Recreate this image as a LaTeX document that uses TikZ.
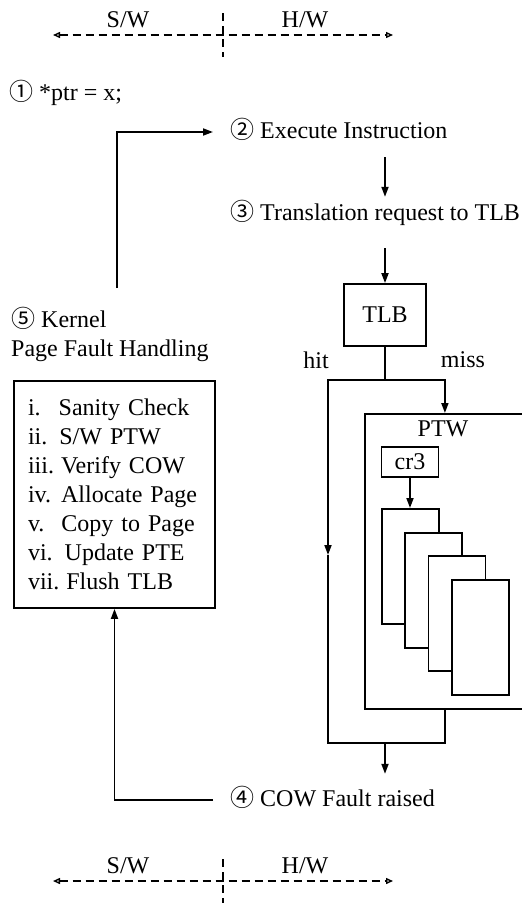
\documentclass[tikz,border=0pt]{standalone}
\usepackage{fontspec}
\setmainfont{Liberation Serif}
\newfontfamily\circfont{Noto Sans CJK JP}
\usetikzlibrary{arrows.meta, calc}

\begin{document}
\begin{tikzpicture}[x=1pt, y=-1pt,
    >={Triangle[length=10pt, width=7pt]},
    wire/.style={line width=1.8pt},
    box/.style={draw, line width=1.8pt, inner sep=0pt},
    divider/.style={line width=1.4pt, dash pattern=on 8pt off 5pt},
    sidearr/.style={divider, {Triangle[open, length=7pt, width=6pt]}-{Triangle[open, length=7pt, width=6pt]}},
    stepnote/.style={inner sep=0pt, text height=17pt, text depth=5pt, anchor=base west},
    every node/.style={font=\fontsize{24}{29}\selectfont}
  ]
  \useasboundingbox (0,0) rectangle (522,905);

  % S/W | H/W dividers, top and bottom
  \foreach \y/\n in {35/top, 881/bot} {
    \coordinate (\n-l) at (53,\y);
    \coordinate (\n-r) at (393,\y);
    \coordinate (\n-u) at (223,\y-22);
    \coordinate (\n-d) at (223,\y+22);
    \draw[sidearr] (\n-l) -- (\n-r);
    \draw[divider] (\n-u) -- (\n-d);
    \node[anchor=base] (\n-sw) at (128,\y-8) {S/W};
    \node[anchor=base] (\n-hw) at (305,\y-8) {H/W};
  }

  % steps
  \node[stepnote] (ptr)   at (9,100)   {{\circfont ①} *ptr = x;};
  \node[stepnote] (exec)  at (230,138) {{\circfont ②} Execute Instruction};
  \node[stepnote] (trans) at (230,220) {{\circfont ③} Translation request to TLB};
  \node[stepnote] (cow)   at (230,806) {{\circfont ④} COW Fault raised};
  \node[anchor=south west, inner sep=0pt, align=left] (kernel) at (11,362)
    {{\circfont ⑤} Kernel\\Page Fault Handling};

  \node[box, text width=173pt, inner xsep=14pt, minimum height=227pt, align=left] (steps) at (114.5,494.5)
    {i.\hspace{18pt}Sanity Check\\
     ii.\hspace{12pt}S/W PTW\\
     iii.\hspace{7pt}Verify COW\\
     iv.\hspace{10pt}Allocate Page\\
     v.\hspace{17pt}Copy to Page\\
     vi.\hspace{12pt}Update PTE\\
     vii.\hspace{7pt}Flush TLB};

  % hardware walk
  \node[box, minimum width=82pt, minimum height=62pt] (tlb) at (385,315) {TLB};
  \node[anchor=base] (hit)  at (316,368) {hit};
  \node[anchor=base] (miss) at (463,367) {miss};
  \node[box, anchor=north west, minimum width=160pt, minimum height=295pt] (ptw) at (364,413) {};
  \node[anchor=base] (ptwname) at (443,436) {PTW};
  \node[box, minimum width=57pt, minimum height=30pt] (cr3) at (410,462) {cr3};
  \foreach \i in {0,...,3}
    \node[box, fill=white, anchor=north west, minimum width=57pt, minimum height=115pt]
      (pg\i) at ({381+23.3*\i},{508+23.7*\i}) {};

  \coordinate (back)   at (117,288);   % loose end above kernel label
  \coordinate (split)  at (385,380);   % hit / miss fork
  \coordinate (hitmid) at (328,555);   % arrow head on hit path
  \coordinate (merge)  at (385,743);   % paths join again

  \draw[wire,->] ($(exec.south -| tlb)+(0,14)$) -- ($(trans.north -| tlb)+(0,-6)$);
  \draw[wire,->] ($(trans.south -| tlb)+(0,23)$) -- (tlb.north);
  \draw[wire] (tlb.south) -- (split);
  \draw[wire,->] (split) -| (ptw.north);
  \draw[wire,->] (split) -| (hitmid);
  \draw[wire] (hitmid) |- (merge);
  \draw[wire] (ptw.south) |- (merge);
  \draw[wire,->] (cr3.south) -- (cr3.south |- pg0.north);
  \draw[wire,->] (merge) -- ($(cow.north -| merge)+(0,-15)$);
  \draw[wire,->,shorten <=17pt] (cow.west) -| (steps.south);
  \draw[wire,->,shorten >=17pt] (back) |- (exec.west);
\end{tikzpicture}
\end{document}
